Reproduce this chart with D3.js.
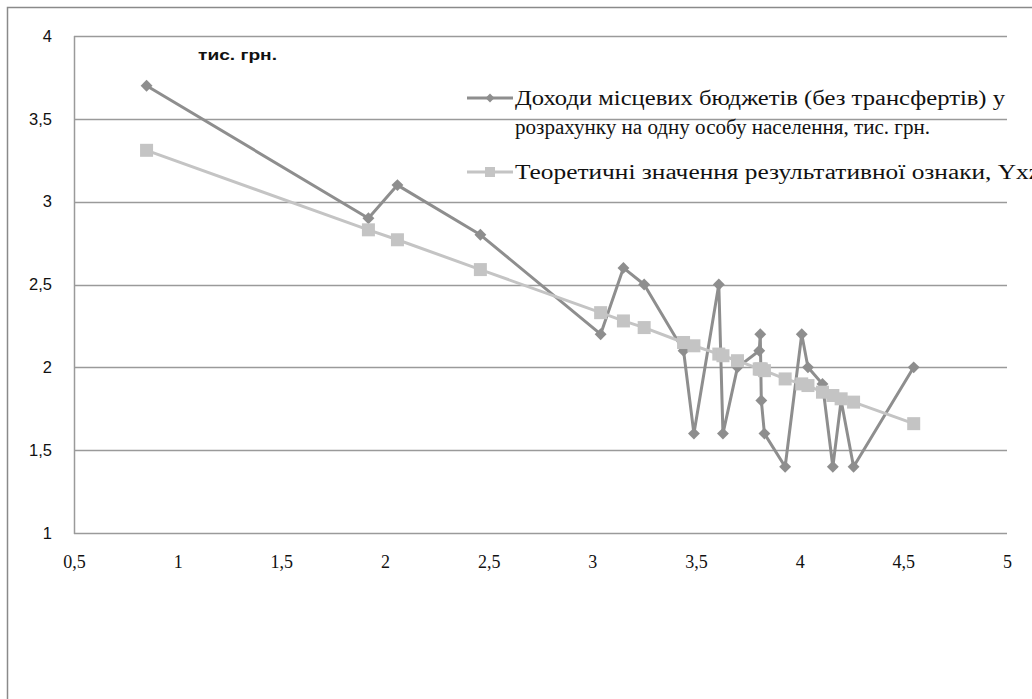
<!DOCTYPE html>
<html>
<head>
<meta charset="utf-8">
<script src="https://cdn.jsdelivr.net/npm/d3@7"></script>
<style>
html,body{margin:0;padding:0;background:#fff;}
svg{display:block;}
</style>
</head>
<body>
<svg id="chart" width="1032" height="699"></svg>
<script>
// Data
const xValues = [0.85, 1.92, 2.06, 2.46, 3.04, 3.15, 3.25, 3.44, 3.49, 3.61, 3.63, 3.70, 3.805, 3.81, 3.815, 3.83, 3.93, 4.01, 4.04, 4.11, 4.16, 4.20, 4.26, 4.55];
const actualValues = [3.7, 2.9, 3.1, 2.8, 2.2, 2.6, 2.5, 2.1, 1.6, 2.5, 1.6, 2.0, 2.1, 2.2, 1.8, 1.6, 1.4, 2.2, 2.0, 1.9, 1.4, 1.8, 1.4, 2.0];
const theoreticalValues = [3.31, 2.83, 2.77, 2.59, 2.33, 2.28, 2.24, 2.15, 2.13, 2.08, 2.07, 2.04, 1.99, 1.99, 1.99, 1.98, 1.93, 1.90, 1.89, 1.85, 1.83, 1.81, 1.79, 1.66];
const xTicks = [0.5, 1, 1.5, 2, 2.5, 3, 3.5, 4, 4.5, 5];
const yTicks = [1, 1.5, 2, 2.5, 3, 3.5, 4];
const seriesNames = ["Доходи місцевих  бюджетів (без трансфертів) у", "розрахунку на одну особу населення, тис. грн.", "Теоретичні значення результативної ознаки, Yxz"];
const unitLabel = "тис. грн.";

(function () {
const svg = d3.select("#chart");
const pl = 74, pr = 1007, pt = 36, pb = 533;
const x = d3.scaleLinear().domain([0.5, 5]).range([pl, pr]);
const y = d3.scaleLinear().domain([1, 4]).range([pb, pt]);
const fmt = d => String(d).replace(".", ",");

const c1 = "#8e8e8e", c2 = "#c4c4c4", gridC = "#9a9a9a";

// outer frame (top and left edges visible)
svg.append("path").attr("d", "M7.5,720V7.5H1040")
  .attr("fill", "none").attr("stroke", "#8a8a8a").attr("stroke-width", 1.5);

// horizontal gridlines
svg.append("g").selectAll("line").data(yTicks).join("line")
  .attr("x1", pl).attr("x2", pr).attr("y1", d => Math.round(y(d)) + 0.5).attr("y2", d => Math.round(y(d)) + 0.5)
  .attr("stroke", gridC).attr("stroke-width", 1.5);
// left axis line
svg.append("line").attr("x1", pl + 0.5).attr("x2", pl + 0.5).attr("y1", pt).attr("y2", pb + 1)
  .attr("stroke", gridC).attr("stroke-width", 1.5);

// y axis labels
const gy = svg.append("g").attr("transform", `translate(${pl},0)`)
  .call(d3.axisLeft(y).tickValues(yTicks).tickSize(0).tickFormat(fmt).tickPadding(22));
gy.select(".domain").remove();
gy.selectAll(".tick text").attr("font-family", "Liberation Sans, Arial, sans-serif").attr("font-size", 16.5).attr("fill", "#111");

// x axis labels
const gx = svg.append("g").attr("transform", `translate(0,${pb})`)
  .call(d3.axisBottom(x).tickValues(xTicks).tickSize(0).tickFormat(fmt).tickPadding(22));
gx.select(".domain").remove();
gx.selectAll(".tick text").attr("font-family", "Liberation Serif, Times New Roman, serif").attr("font-size", 18).attr("fill", "#111");

// unit label
svg.append("text").attr("x", 198).attr("y", 60).text(unitLabel)
  .attr("textLength", 79).attr("lengthAdjust", "spacingAndGlyphs")
  .attr("font-family", "Liberation Sans, Arial, sans-serif").attr("font-weight", "bold").attr("font-size", 14).attr("fill", "#111");

const idx = d3.range(xValues.length);
const line1 = d3.line().x(i => x(xValues[i])).y(i => y(actualValues[i]));
const line2 = d3.line().x(i => x(xValues[i])).y(i => y(theoreticalValues[i]));

const diamond = d3.symbol().type(d3.symbolDiamond2).size(90);

svg.append("path").attr("d", line1(idx)).attr("fill", "none").attr("stroke", c1).attr("stroke-width", 3).attr("stroke-linejoin", "round");
svg.append("g").selectAll("path").data(idx).join("path")
  .attr("d", diamond).attr("transform", i => `translate(${x(xValues[i])},${y(actualValues[i])})`).attr("fill", c1);

svg.append("path").attr("d", line2(idx)).attr("fill", "none").attr("stroke", c2).attr("stroke-width", 3);
svg.append("g").selectAll("rect").data(idx).join("rect")
  .attr("x", i => x(xValues[i]) - 6.5).attr("y", i => y(theoreticalValues[i]) - 6.5)
  .attr("width", 13).attr("height", 13).attr("fill", c2);

// legend
const lg = svg.append("g");
lg.append("line").attr("x1", 467).attr("x2", 513).attr("y1", 98).attr("y2", 98).attr("stroke", c1).attr("stroke-width", 3);
lg.append("path").attr("d", d3.symbol().type(d3.symbolDiamond2).size(50)).attr("transform", "translate(490,98)").attr("fill", c1);
lg.append("line").attr("x1", 467).attr("x2", 513).attr("y1", 172).attr("y2", 172).attr("stroke", c2).attr("stroke-width", 3);
lg.append("rect").attr("x", 485).attr("y", 167).attr("width", 10).attr("height", 10).attr("fill", c2);

const legTexts = [
  {t: seriesNames[0], y: 105, w: 490},
  {t: seriesNames[1], y: 134, w: 415},
  {t: seriesNames[2], y: 179, w: 525}
];
lg.selectAll("text").data(legTexts).join("text")
  .attr("x", 515).attr("y", d => d.y).text(d => d.t)
  .attr("textLength", d => d.w).attr("lengthAdjust", "spacingAndGlyphs")
  .attr("font-family", "Liberation Serif, Times New Roman, serif").attr("font-size", 20).attr("fill", "#111");
})();
</script>
</body>
</html>
